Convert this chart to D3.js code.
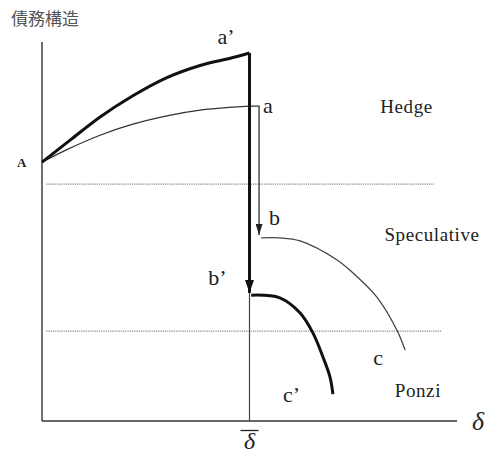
<!DOCTYPE html>
<html>
<head>
<meta charset="utf-8">
<script src="https://cdn.jsdelivr.net/npm/d3@7"></script>
<style>
  body { margin: 0; background: #fff; }
  text { font-family: "Liberation Serif", "DejaVu Serif", serif; fill: #222; }
</style>
</head>
<body>
<div id="chart"></div>
<script>
// values in axis units (delta 0-100, debt structure 0-100)
const startA = 68.3;          // point A on the debt axis
const deltaBar = 50;          // delta bar
const hedgeLimit = 62.5;      // hedge / speculative boundary
const ponziLimit = 23.7;      // speculative / ponzi boundary
const hedgeLineEnd = 94.5;
const ponziLineEnd = 96.4;

// path A -> a (thin) and A -> a' (thick)
const curveA = [[0, 68.3], [6, 71.6], [14, 75.4], [21.9, 78.3], [30.1, 80.5], [38.1, 82], [46, 82.8], [50, 83.1]];
const curveA2 = [[0, 68.3], [7, 74.3], [14, 80.2], [21.9, 85.8], [30.1, 90.6], [38.1, 93.8], [46, 95.9], [50, 97.1]];
// drop a -> b and a' -> b'
const dropAB = [[50, 83.1], [52.3, 83.1], [52.3, 49.1]];
const dropA2B2 = [[50, 97.1], [50, 33.8]];
// path b -> c (thin) and b' -> c' (thick)
const curveB = [[52.8, 48.3], [57.3, 48.3], [62.2, 47.5], [71.1, 42.5], [74.2, 39.8], [80.7, 32.7], [85.5, 24], [87.5, 18.7]];
const curveB2 = [[50.4, 33.2], [57.3, 32.5], [62.2, 28.5], [65.3, 23.2], [67.7, 16.9], [69.4, 11.6], [70.1, 7.1]];

const regimes = ["Hedge", "Speculative", "Ponzi"];

const width = 492, height = 455;
const margin = { top: 42, right: 35, bottom: 34, left: 42 };

const svg = d3.select("#chart").append("svg")
  .attr("width", width)
  .attr("height", height);

const x = d3.scaleLinear().domain([0, 100]).range([margin.left, width - margin.right]);
const y = d3.scaleLinear().domain([0, 100]).range([height - margin.bottom, margin.top]);

const defs = svg.append("defs");
function arrow(id, w, l, color) {
  defs.append("marker")
    .attr("id", id)
    .attr("markerUnits", "userSpaceOnUse")
    .attr("viewBox", `0 0 ${l} ${w}`)
    .attr("refX", l).attr("refY", w / 2)
    .attr("markerWidth", l).attr("markerHeight", w)
    .attr("orient", "auto")
    .append("path")
    .attr("d", `M0,0L${l},${w / 2}L0,${w}Z`)
    .attr("fill", color);
}
arrow("thinArrow", 7, 11, "#222");
arrow("thickArrow", 9, 13, "#111");

// axes
svg.append("line")
  .attr("x1", x(0)).attr("x2", x(0))
  .attr("y1", y(0)).attr("y2", y(100))
  .attr("stroke", "#333").attr("stroke-width", 1.4);
svg.append("line")
  .attr("x1", x(0)).attr("x2", x(100))
  .attr("y1", y(0)).attr("y2", y(0))
  .attr("stroke", "#333").attr("stroke-width", 1.4);

// regime boundaries
[[hedgeLimit, hedgeLineEnd], [ponziLimit, ponziLineEnd]].forEach(([v, end]) => {
  svg.append("line")
    .attr("x1", x(1)).attr("x2", x(end))
    .attr("y1", y(v)).attr("y2", y(v))
    .attr("stroke", "#888").attr("stroke-width", 1.3)
    .attr("stroke-dasharray", "1.2,1");
});

// delta bar vertical
svg.append("line")
  .attr("x1", x(deltaBar)).attr("x2", x(deltaBar))
  .attr("y1", y(0)).attr("y2", y(33.8))
  .attr("stroke", "#444").attr("stroke-width", 1.2);

const smooth = d3.line().x(d => x(d[0])).y(d => y(d[1])).curve(d3.curveMonotoneX);
const straight = d3.line().x(d => x(d[0])).y(d => y(d[1]));
const smoothB = d3.line().x(d => x(d[0])).y(d => y(d[1])).curve(d3.curveCatmullRom.alpha(0.5));

svg.append("path").attr("d", smooth(curveA))
  .attr("fill", "none").attr("stroke", "#333").attr("stroke-width", 1.3);
svg.append("path").attr("d", smooth(curveA2))
  .attr("fill", "none").attr("stroke", "#111").attr("stroke-width", 3);
svg.append("path").attr("d", straight(dropAB))
  .attr("fill", "none").attr("stroke", "#333").attr("stroke-width", 1.3)
  .attr("marker-end", "url(#thinArrow)");
svg.append("path").attr("d", straight(dropA2B2))
  .attr("fill", "none").attr("stroke", "#111").attr("stroke-width", 3)
  .attr("marker-end", "url(#thickArrow)");
svg.append("path").attr("d", smoothB(curveB))
  .attr("fill", "none").attr("stroke", "#444").attr("stroke-width", 1.3);
svg.append("path").attr("d", smoothB(curveB2))
  .attr("fill", "none").attr("stroke", "#111").attr("stroke-width", 3);

// point labels
const last = arr => arr[arr.length - 1];
const pointLabels = [
  { t: "a’", px: x(last(curveA2)[0]) - 32, py: y(last(curveA2)[1]) - 9 },
  { t: "a", px: x(dropAB[1][0]) + 4, py: y(dropAB[1][1]) + 7 },
  { t: "b", px: x(curveB[0][0]) + 8, py: y(curveB[0][1]) - 13 },
  { t: "b’", px: x(curveB2[0][0]) - 43, py: y(curveB2[0][1]) - 10 },
  { t: "c", px: x(last(curveB)[0]) - 32, py: y(last(curveB)[1]) + 15 },
  { t: "c’", px: x(last(curveB2)[0]) - 50, py: y(last(curveB2)[1]) + 8 }
];
svg.selectAll(".pt").data(pointLabels).enter().append("text")
  .attr("class", "pt")
  .attr("x", d => d.px).attr("y", d => d.py)
  .style("font-size", "22px")
  .text(d => d.t);

// regime labels
const regimePos = [[x(81.5), y(hedgeLimit) - 71], [x(82.5), y(hedgeLimit) + 57], [x(85), y(ponziLimit) + 66]];
svg.selectAll(".regime").data(regimes).enter().append("text")
  .attr("class", "regime")
  .attr("x", (d, i) => regimePos[i][0]).attr("y", (d, i) => regimePos[i][1])
  .style("font-size", "19px")
  .style("letter-spacing", "0.6px")
  .text(d => d);

// A label
svg.append("text")
  .attr("x", x(0) - 25).attr("y", y(startA) + 5)
  .style("font-size", "13px")
  .style("font-weight", "bold")
  .text("A");

// axis titles
svg.append("text")
  .attr("x", 11).attr("y", 25)
  .style("font-family", "'Noto Sans CJK JP', sans-serif")
  .style("font-size", "17px")
  .style("fill", "#555")
  .text("債務構造");

svg.append("text")
  .attr("x", x(100) + 15).attr("y", y(0) + 9)
  .style("font-size", "26px").style("font-style", "italic")
  .text("δ");

svg.append("text")
  .attr("x", x(deltaBar)).attr("y", y(0) + 28)
  .attr("text-anchor", "middle")
  .style("font-size", "24px").style("font-style", "italic")
  .text("δ");
svg.append("line")
  .attr("x1", x(deltaBar) - 9).attr("x2", x(deltaBar) + 9)
  .attr("y1", y(0) + 9.5).attr("y2", y(0) + 9.5)
  .attr("stroke", "#222").attr("stroke-width", 1.3);
</script>
</body>
</html>
